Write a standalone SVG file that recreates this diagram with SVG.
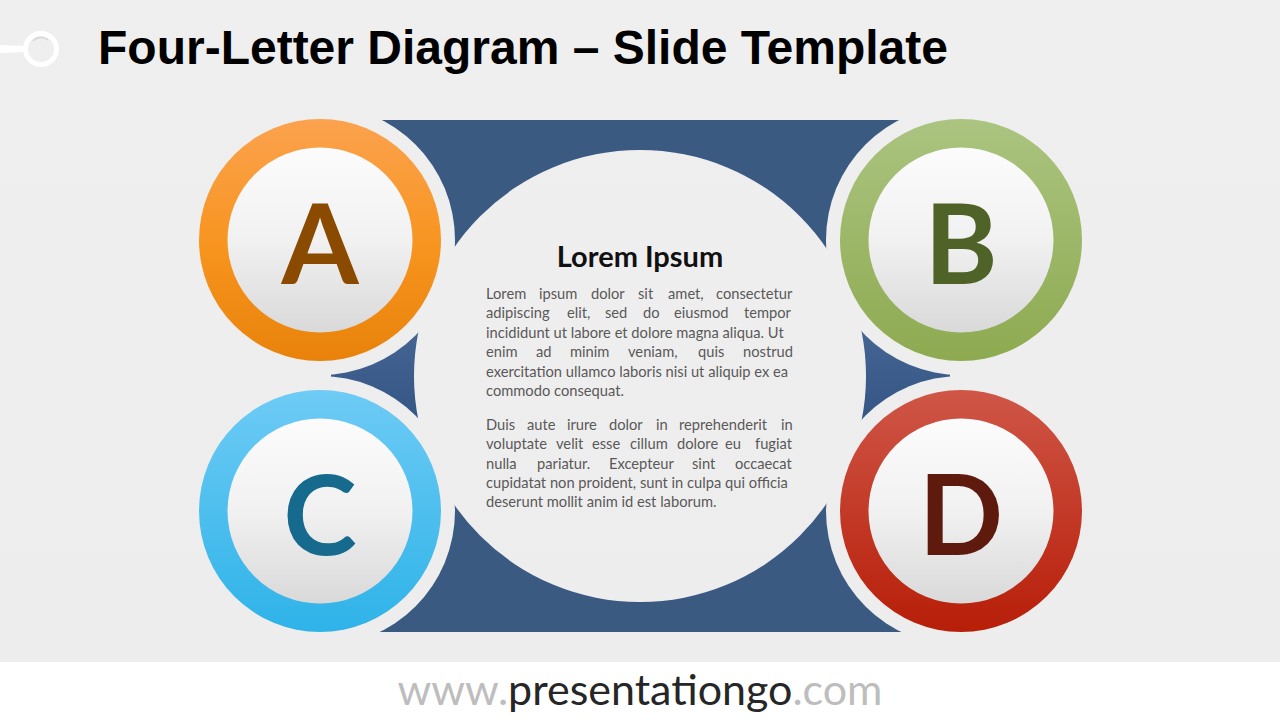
<svg xmlns="http://www.w3.org/2000/svg" width="1280" height="720" viewBox="0 0 1280 720">
<defs>
<style>
.title{font-family:"Liberation Sans",Arial,sans-serif;font-weight:bold;font-size:48px;fill:#000}
.letter{font-family:Lato,"Open Sans",sans-serif;font-weight:bold;font-size:111px;text-anchor:middle}
.head{font-family:Lato,"Open Sans",sans-serif;font-weight:bold;font-size:29px;text-anchor:middle;fill:#111}
.body{font-family:Lato,"Open Sans",sans-serif;font-size:14.7px;fill:#595959}
.foot{font-family:Lato,"Open Sans",sans-serif;font-size:43px;text-anchor:middle}
</style>
<linearGradient id="bg" x1="0" y1="0" x2="0" y2="1"><stop offset="0" stop-color="#F0EFEF"/><stop offset="1" stop-color="#EEEDED"/></linearGradient>
<linearGradient id="gA" x1="0" y1="0" x2="0" y2="1"><stop offset="0" stop-color="#FBA24E"/><stop offset="0.55" stop-color="#F7941D"/><stop offset="1" stop-color="#E8820B"/></linearGradient>
<linearGradient id="gB" x1="0" y1="0" x2="0" y2="1"><stop offset="0" stop-color="#ABC480"/><stop offset="1" stop-color="#8EAA50"/></linearGradient>
<linearGradient id="gC" x1="0" y1="0" x2="0" y2="1"><stop offset="0" stop-color="#6ECBF5"/><stop offset="1" stop-color="#2EB3E8"/></linearGradient>
<linearGradient id="gD" x1="0" y1="0" x2="0" y2="1"><stop offset="0" stop-color="#CF5647"/><stop offset="1" stop-color="#B71E08"/></linearGradient>
<linearGradient id="gIn" x1="0" y1="0" x2="0" y2="1"><stop offset="0" stop-color="#FCFCFC"/><stop offset="0.5" stop-color="#F1F1F1"/><stop offset="1" stop-color="#D9D9D9"/></linearGradient>
<linearGradient id="gTri" x1="0" y1="0" x2="0" y2="1"><stop offset="0" stop-color="#4A6A96"/><stop offset="1" stop-color="#2F5182"/></linearGradient>
<mask id="cut" maskUnits="userSpaceOnUse" x="0" y="0" width="1280" height="720">
<rect x="0" y="0" width="1280" height="720" fill="#fff"/>
<circle cx="640" cy="376" r="226" fill="#000"/>
<circle cx="320" cy="240" r="135" fill="#000"/>
<circle cx="961" cy="240" r="135" fill="#000"/>
<circle cx="320" cy="511" r="135" fill="#000"/>
<circle cx="961" cy="511" r="135" fill="#000"/>
</mask>
</defs>
<rect width="1280" height="662" fill="url(#bg)"/>
<rect y="662" width="1280" height="58" fill="#FFFFFF"/>

<g id="logo-icon">
<path d="M0 45 L26 46 L26 52 L0 53 Z" fill="#FFFFFF"/>
<circle cx="41" cy="49" r="15.5" fill="none" stroke="#FFFFFF" stroke-width="5"/>
<path d="M33 41 A11 11 0 0 1 48 40" fill="none" stroke="#D6D6D6" stroke-width="1.5"/>
</g>
<text class="title" x="98" y="64">Four-Letter Diagram – Slide Template</text>

<g id="frame" mask="url(#cut)">
<rect x="331" y="120" width="618" height="512" fill="#3B5A82"/>
<rect x="331" y="300" width="100" height="150" fill="url(#gTri)"/>
<rect x="850" y="300" width="100" height="150" fill="url(#gTri)"/>
</g>

<g id="node-A">
<circle cx="320" cy="240" r="121" fill="url(#gA)"/>
<circle cx="320" cy="240" r="92.5" fill="url(#gIn)"/>
<text class="letter" x="320" y="284" fill="#8A4A00">A</text>
</g>
<g id="node-B">
<circle cx="961" cy="240" r="121" fill="url(#gB)"/>
<circle cx="961" cy="240" r="92.5" fill="url(#gIn)"/>
<text class="letter" x="961" y="284" fill="#4F6228">B</text>
</g>
<g id="node-C">
<circle cx="320" cy="511" r="121" fill="url(#gC)"/>
<circle cx="320" cy="511" r="92.5" fill="url(#gIn)"/>
<text class="letter" x="320" y="555" fill="#156A8E">C</text>
</g>
<g id="node-D">
<circle cx="961" cy="511" r="121" fill="url(#gD)"/>
<circle cx="961" cy="511" r="92.5" fill="url(#gIn)"/>
<text class="letter" x="961" y="555" fill="#5E1A0C">D</text>
</g>

<g id="center-text">
<text class="head" x="640" y="267">Lorem Ipsum</text>
<text class="body" y="299"><tspan x="486">Lorem</tspan><tspan x="539">ipsum</tspan><tspan x="591">dolor</tspan><tspan x="638">sit</tspan><tspan x="668">amet,</tspan><tspan x="716">consectetur</tspan></text>
<text class="body" y="318"><tspan x="486">adipiscing</tspan><tspan x="567">elit,</tspan><tspan x="605">sed</tspan><tspan x="643">do</tspan><tspan x="674">eiusmod</tspan><tspan x="744">tempor</tspan></text>
<text class="body" x="486" y="338">incididunt ut labore et dolore magna aliqua. Ut</text>
<text class="body" y="357"><tspan x="486">enim</tspan><tspan x="536">ad</tspan><tspan x="570">minim</tspan><tspan x="628">veniam,</tspan><tspan x="698">quis</tspan><tspan x="743">nostrud</tspan></text>
<text class="body" x="486" y="377">exercitation ullamco laboris nisi ut aliquip ex ea</text>
<text class="body" x="486" y="396">commodo  consequat.</text>
<text class="body" y="430"><tspan x="486">Duis</tspan><tspan x="527">aute</tspan><tspan x="567">irure</tspan><tspan x="609">dolor</tspan><tspan x="656">in</tspan><tspan x="679">reprehenderit</tspan><tspan x="781">in</tspan></text>
<text class="body" y="449"><tspan x="486">voluptate</tspan><tspan x="556">velit</tspan><tspan x="592">esse</tspan><tspan x="630">cillum</tspan><tspan x="677">dolore</tspan><tspan x="725">eu</tspan><tspan x="755">fugiat</tspan></text>
<text class="body" y="469"><tspan x="486">nulla</tspan><tspan x="537">pariatur.</tspan><tspan x="609">Excepteur</tspan><tspan x="692">sint</tspan><tspan x="735">occaecat</tspan></text>
<text class="body" x="486" y="488">cupidatat non proident, sunt in culpa qui officia</text>
<text class="body" x="486" y="507">deserunt mollit anim id est laborum.</text>
</g>

<text class="foot" x="640" y="705"><tspan fill="#BDBDBD">www.</tspan><tspan fill="#262626">presentationgo</tspan><tspan fill="#BDBDBD">.com</tspan></text>
</svg>
